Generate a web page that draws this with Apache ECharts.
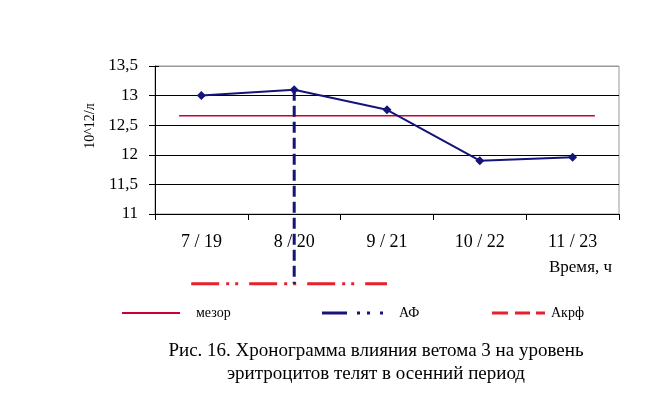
<!DOCTYPE html>
<html><head><meta charset="utf-8">
<script src="https://cdn.jsdelivr.net/npm/echarts@6/dist/echarts.min.js"></script>
<style>html,body{margin:0;padding:0;background:#fff}#c{width:648px;height:397px}</style>
</head><body><div id="c"></div>
<script>
const categories = ['7 / 19', '8 / 20', '9 / 21', '10 / 22', '11 / 23'];
const values = [13.0, 13.1, 12.76, 11.9, 11.96];
const mesorValue = 12.66;
const mesorSpan = [-0.24, 4.24];
const acrophaseIndex = 1;
const acrophaseRange = [-0.11, 2.0];
const yTicks = [11, 11.5, 12, 12.5, 13, 13.5];
const lowLevel = 9.82;

const font = 'Liberation Serif';
const navy = '#14147a';
const red = '#e8202a';
const mesorColor = '#cc0030';
const chart = echarts.init(document.getElementById('c'));
chart.setOption({
  animation: false,
  backgroundColor: '#fff',
  textStyle: { fontFamily: font, color: '#000' },
  grid: [
    { left: 155, right: 29, top: 66, height: 148, show: true, borderColor: '#999', borderWidth: 1, backgroundColor: 'transparent' },
    { left: 155, right: 29, top: 66, height: 222, show: false }
  ],
  xAxis: [
    { type: 'category', gridIndex: 0, data: categories, boundaryGap: true,
      axisLine: { lineStyle: { color: '#000', width: 1 } },
      axisTick: { show: true, length: 6, lineStyle: { color: '#000' } },
      axisLabel: { fontFamily: font, fontSize: 18, color: '#000', margin: 19 },
      splitLine: { show: false } },
    { type: 'value', gridIndex: 1, min: -0.5, max: 4.5, show: false }
  ],
  yAxis: [
    { type: 'value', gridIndex: 0, min: yTicks[0], max: yTicks[yTicks.length - 1], interval: 0.5,
      name: '10^12/л', nameLocation: 'middle', nameGap: 54, nameRotate: 90,
      nameTextStyle: { fontFamily: font, fontSize: 14, color: '#000', padding: [0, 0, 0, 28] },
      axisLine: { show: true, lineStyle: { color: '#000' } },
      axisTick: { show: true, length: 6, lineStyle: { color: '#000' } },
      axisLabel: { fontFamily: font, fontSize: 17, color: '#000', margin: 17,
        formatter: v => String(v).replace('.', ',') },
      splitLine: { show: true, lineStyle: { color: ['#000', '#000', '#000', '#000', '#000', '#999'], width: 1 } } },
    { type: 'value', gridIndex: 1, min: 9.75, max: 13.5, show: false },
    { type: 'value', gridIndex: 0, min: yTicks[0], max: yTicks[yTicks.length - 1], interval: 0.5,
      position: 'left', axisLine: { show: false }, axisLabel: { show: false }, splitLine: { show: false },
      axisTick: { show: true, inside: true, length: 4, lineStyle: { color: '#000' } } }
  ],
  legend: [
    { left: 122, top: 306, padding: 0, itemWidth: 58, itemHeight: 2, selectedMode: false,
      textStyle: { fontFamily: font, fontSize: 14, color: '#000', padding: [0, 0, 0, 11] },
      data: [{ name: 'мезор', icon: 'path://M0,0h58v2h-58z', itemStyle: { color: mesorColor } }] },
    { left: 322, top: 306, padding: 0, itemWidth: 61, itemHeight: 3, selectedMode: false,
      textStyle: { fontFamily: font, fontSize: 14, color: '#000', padding: [0, 0, 0, 11] },
      data: [{ name: 'АФ', icon: 'path://M0,0h25v3h-25z M35,0h3v3h-3z M45,0h3v3h-3z M58,0h3v3h-3z', itemStyle: { color: navy } }] },
    { left: 492, top: 306, padding: 0, itemWidth: 53, itemHeight: 3, selectedMode: false,
      textStyle: { fontFamily: font, fontSize: 14, color: '#000', padding: [0, 0, 0, 1] },
      data: [{ name: 'Акрф', icon: 'path://M0,0h16v3h-16z M23,0h15v3h-15z M44,0h9v3h-9z', itemStyle: { color: red } }] }
  ],
  graphic: [
    { type: 'text', right: 36, top: 259, style: { text: 'Время, ч', font: '17px "Liberation Serif"', fill: '#000' } },
    { type: 'text', x: 376, y: 340,
      style: { text: 'Рис. 16. Хронограмма влияния ветома 3 на уровень\nэритроцитов телят в осенний период',
        font: '19px "Liberation Serif"', fill: '#000', align: 'center', verticalAlign: 'top', lineHeight: 23 } }
  ],
  series: [
    { name: 'мезор', type: 'line', xAxisIndex: 1, yAxisIndex: 1, symbol: 'none', silent: true,
      data: mesorSpan.map(x => [x, mesorValue]), itemStyle: { color: mesorColor }, lineStyle: { color: mesorColor, width: 1.3 }, z: 3 },
    { name: 'АФ', type: 'line', xAxisIndex: 1, yAxisIndex: 1, symbol: 'none', clip: false,
      data: [[acrophaseIndex, values[acrophaseIndex]], [acrophaseIndex, lowLevel]],
      itemStyle: { color: navy }, lineStyle: { color: navy, width: 3, type: [11, 5] }, z: 4 },
    { name: 'Акрф', type: 'line', xAxisIndex: 1, yAxisIndex: 1, symbol: 'none', clip: false,
      data: acrophaseRange.map(x => [x, lowLevel]),
      itemStyle: { color: red }, lineStyle: { color: red, width: 3, type: [28, 7, 3, 6, 3, 11] }, z: 3 },
    { name: 'values', type: 'line', xAxisIndex: 0, yAxisIndex: 0, data: values,
      symbol: 'diamond', symbolSize: 9, itemStyle: { color: navy }, lineStyle: { color: navy, width: 2 }, z: 5 }
  ]
});
</script></body></html>
